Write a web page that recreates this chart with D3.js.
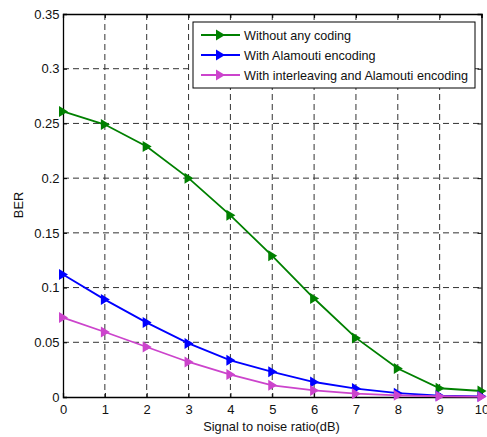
<!DOCTYPE html>
<html><head><meta charset="utf-8">
<script src="https://cdn.jsdelivr.net/npm/d3@7"></script>
<style>body{margin:0;background:#fff}svg{display:block}</style>
</head><body>
<svg id="c" width="487" height="437"></svg>
<script>
const snr = [0,1,2,3,4,5,6,7,8,9,10];
const noCoding = [0.261,0.249,0.229,0.200,0.166,0.129,0.090,0.054,0.026,0.008,0.0055];
const alamouti = [0.112,0.089,0.068,0.049,0.0335,0.023,0.0137,0.0077,0.0035,0.0012,0.0006];
const interleaved = [0.0726,0.0594,0.0457,0.032,0.0205,0.0107,0.006,0.003,0.0015,0.0007,0.0003];
const xTicks = [0,1,2,3,4,5,6,7,8,9,10];
const yTicks = [0,0.05,0.1,0.15,0.2,0.25,0.3,0.35];
const seriesNames = ["Without any coding","With Alamouti encoding","With interleaving and Alamouti encoding"];
const seriesColors = ["#008000","#0000ff","#cc44cc"];
const seriesData = [noCoding, alamouti, interleaved];

const svg = d3.select("#c");
const L=63, R=481.5, T=14, B=397;
const x = d3.scaleLinear().domain([0,10]).range([L,R]);
const y = d3.scaleLinear().domain([0,0.35]).range([B,T]);
const font = "Liberation Sans, Arial, sans-serif";

// grid
const g = svg.append("g");
g.selectAll(".gx").data(xTicks.slice(1,-1)).join("line")
  .attr("x1",d=>x(d)).attr("x2",d=>x(d)).attr("y1",T).attr("y2",B)
  .attr("stroke","#333").attr("stroke-width",1).attr("stroke-dasharray","6,4");
g.selectAll(".gy").data(yTicks.slice(1,-1)).join("line")
  .attr("y1",d=>y(d)).attr("y2",d=>y(d)).attr("x1",L).attr("x2",R)
  .attr("stroke","#333").attr("stroke-width",1).attr("stroke-dasharray","6,4");

// axes
const fmt = d=> d===0?"0":String(+d.toFixed(2));
const ax = svg.append("g").attr("transform",`translate(0,${B})`)
  .call(d3.axisBottom(x).tickValues(xTicks).tickSize(-4).tickPadding(7.5).tickFormat(d3.format("d")));
const ay = svg.append("g").attr("transform",`translate(${L},0)`)
  .call(d3.axisLeft(y).tickValues(yTicks).tickSize(-4).tickPadding(3.5).tickFormat(fmt));
const axT = svg.append("g").attr("transform",`translate(0,${T})`)
  .call(d3.axisTop(x).tickValues(xTicks).tickSize(-4).tickFormat(""));
const axR = svg.append("g").attr("transform",`translate(${R},0)`)
  .call(d3.axisRight(y).tickValues(yTicks).tickSize(-4).tickFormat(""));
[ax,ay,axT,axR].forEach(a=>{
  a.select(".domain").attr("stroke","#000").attr("stroke-width",1.3);
  a.selectAll(".tick line").attr("stroke","#000");
  a.selectAll("text").attr("font-family",font).attr("font-size",13).attr("fill","#111");
});

// series
const line = d3.line().x((d,i)=>x(snr[i])).y(d=>y(d));
const tri = "M-4,-5.5L5,0L-4,5.5Z";
seriesData.forEach((data,k)=>{
  svg.append("path").datum(data).attr("d",line).attr("fill","none")
    .attr("stroke",seriesColors[k]).attr("stroke-width",1.8);
  svg.selectAll(null).data(data).join("path")
    .attr("d",tri).attr("transform",(d,i)=>`translate(${x(snr[i])},${y(d)})`)
    .attr("fill",seriesColors[k]);
});

// legend
const lg = svg.append("g");
lg.append("rect").attr("x",193).attr("y",22).attr("width",282).attr("height",66)
  .attr("fill","#fff").attr("stroke","#000").attr("stroke-width",1);
seriesNames.forEach((n,k)=>{
  const yy = 35 + k*20;
  lg.append("line").attr("x1",201).attr("x2",240).attr("y1",yy).attr("y2",yy)
    .attr("stroke",seriesColors[k]).attr("stroke-width",1.8);
  lg.append("path").attr("d",tri).attr("transform",`translate(220,${yy})`).attr("fill",seriesColors[k]);
  lg.append("text").attr("x",244).attr("y",yy+4.5).text(n)
    .attr("font-family",font).attr("font-size",12.6).attr("fill","#111");
});

// axis labels
svg.append("text").attr("x",271.5).attr("y",431).attr("text-anchor","middle")
  .attr("font-family",font).attr("font-size",12.8).attr("fill","#111").text("Signal to noise ratio(dB)");
svg.append("text").attr("transform","translate(23,205) rotate(-90)").attr("text-anchor","middle")
  .attr("font-family",font).attr("font-size",12.8).attr("fill","#111").text("BER");
</script>
</body></html>
